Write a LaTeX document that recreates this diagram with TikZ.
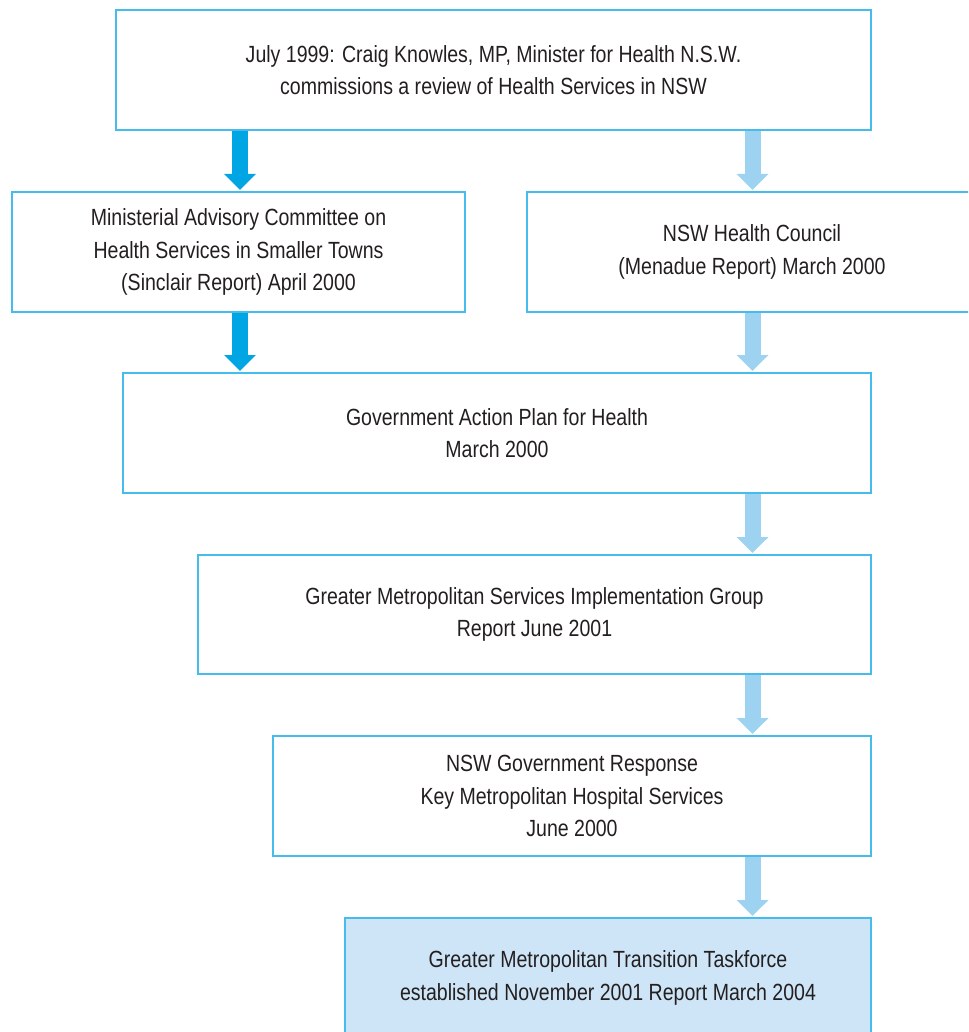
\documentclass[tikz,border=0pt]{standalone}
\usepackage{fontspec}
\setmainfont{Liberation Sans}[FakeStretch=0.835]
\usetikzlibrary{arrows.meta}
\definecolor{boxline}{HTML}{45BCEB}
\definecolor{darkarrow}{HTML}{00A5E3}
\definecolor{lightarrow}{HTML}{9DD3F1}
\definecolor{lastfill}{HTML}{CDE5F6}
\definecolor{txt}{HTML}{231F20}
\begin{document}
\begin{tikzpicture}[x=1pt,y=-1pt,
  stagebox/.style={draw=boxline, line width=2pt, fill=white, rectangle,
    inner sep=0pt, outer sep=0pt, align=center, text=txt,
    font=\fontsize{23.4}{32.3}\selectfont},
  darkflow/.style={draw=darkarrow, line width=16pt,
    -{Triangle[width=31pt,length=16pt]}},
  lightflow/.style={draw=lightarrow, line width=16pt,
    -{Triangle[width=31pt,length=16pt]}}]
\useasboundingbox (0,0) rectangle (968,1032);
\clip (0,0) rectangle (968,1032);

\node[stagebox, minimum width=755pt, minimum height=120pt] (b1) at (493.5,70)
  {July 1999: Craig Knowles, MP, Minister for Health N.S.W.\\commissions a review of Health Services in NSW};
\node[stagebox, minimum width=453pt, minimum height=120pt] (bl2) at (238.5,252)
  {Ministerial Advisory Committee on\\Health Services in Smaller Towns\\(Sinclair Report) April 2000};
\node[stagebox, minimum width=450pt, minimum height=120pt] (br2) at (752,252)
  {NSW Health Council\\(Menadue Report) March 2000};
\node[stagebox, minimum width=748pt, minimum height=120pt] (b3) at (497,433)
  {Government Action Plan for Health\\March 2000};
\node[stagebox, minimum width=673pt, minimum height=119pt] (b4) at (534.5,614.5)
  {Greater Metropolitan Services Implementation Group\\Report June 2001};
\node[stagebox, minimum width=598pt, minimum height=120pt] (b5) at (572,796)
  {NSW Government Response\\Key Metropolitan Hospital Services\\June 2000};
\node[stagebox, fill=lastfill, minimum width=526pt, minimum height=120pt] (b6) at (608,978)
  {Greater Metropolitan Transition Taskforce\\established November 2001 Report March 2004};

\coordinate (colL) at (240,0);
\coordinate (colR) at (752.5,0);

\draw[darkflow] ([yshift=-1pt]colL |- b1.south) -- ([yshift=2pt]colL |- bl2.north);
\draw[darkflow] ([yshift=-1pt]colL |- bl2.south) -- ([yshift=2pt]colL |- b3.north);
\draw[lightflow] ([yshift=-1pt]colR |- b1.south) -- ([yshift=2pt]colR |- br2.north);
\draw[lightflow] ([yshift=-1pt]colR |- br2.south) -- ([yshift=2pt]colR |- b3.north);
\draw[lightflow] ([yshift=-1pt]colR |- b3.south) -- ([yshift=2pt]colR |- b4.north);
\draw[lightflow] ([yshift=-1pt]colR |- b4.south) -- ([yshift=2pt]colR |- b5.north);
\draw[lightflow] ([yshift=-1pt]colR |- b5.south) -- ([yshift=2pt]colR |- b6.north);
\end{tikzpicture}
\end{document}
